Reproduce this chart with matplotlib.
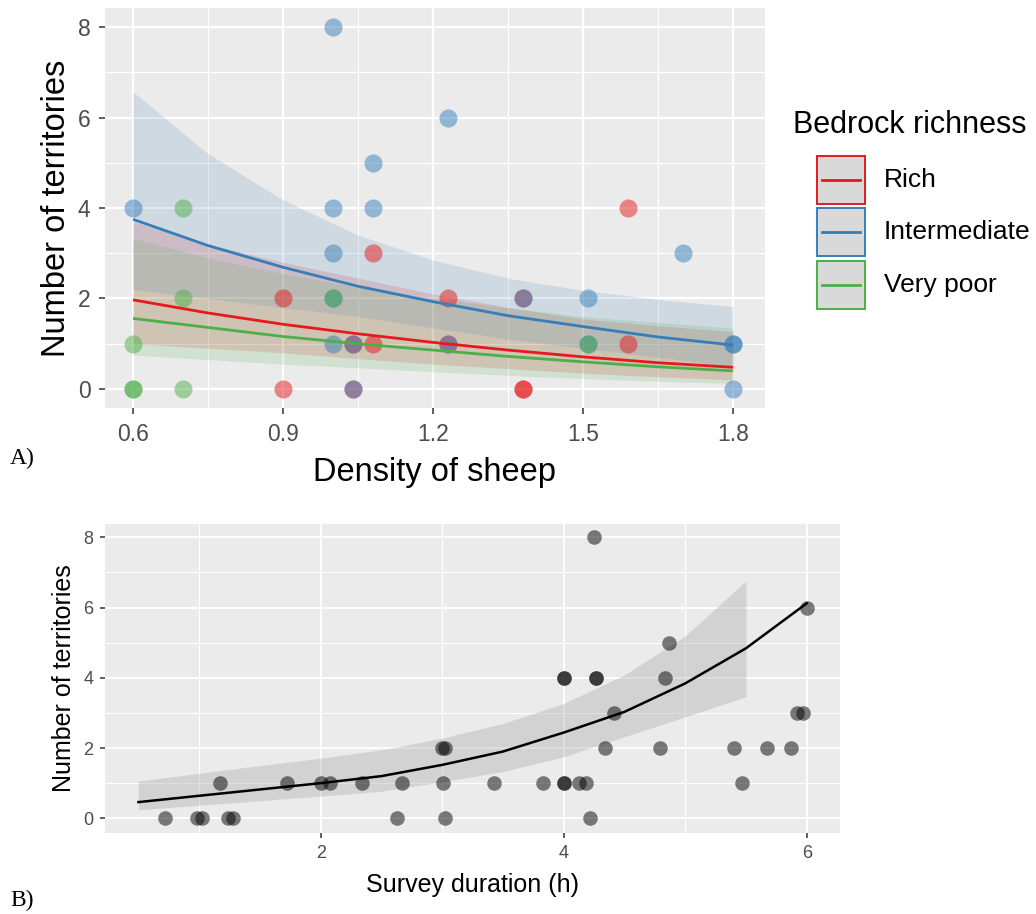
import numpy as np
import matplotlib
matplotlib.use("Agg")
import matplotlib.pyplot as plt
from matplotlib.patches import Rectangle
from matplotlib.lines import Line2D

# ---------------- Panel A data: territories vs. sheep density ----------------
rich_x = [0.9, 0.9, 1.04, 1.04, 1.08, 1.08, 1.23, 1.23, 1.38, 1.38, 1.38, 1.59, 1.59]
rich_y = [2, 0, 1, 0, 3, 1, 2, 1, 2, 0, 0, 4, 1]
inter_x = [0.6, 1.0, 1.0, 1.0, 1.0, 1.0, 1.04, 1.04, 1.08, 1.08, 1.23, 1.23,
           1.38, 1.51, 1.51, 1.70, 1.80, 1.80, 1.80]
inter_y = [4, 8, 4, 3, 2, 1, 1, 0, 5, 4, 6, 1, 2, 2, 1, 3, 1, 1, 0]
poor_x = [0.6, 0.6, 0.6, 0.7, 0.7, 0.7, 1.0, 1.51]
poor_y = [1, 0, 0, 4, 2, 0, 2, 1]

# model predictions with confidence bands
dens_grid = [0.6, 0.75, 0.9, 1.05, 1.2, 1.35, 1.5, 1.65, 1.8]
rich_fit = [1.97, 1.68, 1.43, 1.22, 1.03, 0.86, 0.71, 0.58, 0.48]
rich_lo = [1.00, 0.90, 0.80, 0.67, 0.55, 0.45, 0.35, 0.27, 0.20]
rich_hi = [3.70, 3.20, 2.80, 2.45, 2.10, 1.80, 1.55, 1.40, 1.27]
inter_fit = [3.75, 3.17, 2.69, 2.27, 1.93, 1.62, 1.38, 1.15, 0.97]
inter_lo = [2.20, 2.00, 1.80, 1.60, 1.35, 1.10, 0.90, 0.70, 0.50]
inter_hi = [6.57, 5.20, 4.18, 3.40, 2.85, 2.45, 2.18, 1.98, 1.82]
poor_fit = [1.56, 1.36, 1.16, 1.00, 0.86, 0.72, 0.60, 0.49, 0.40]
poor_lo = [0.75, 0.65, 0.55, 0.47, 0.38, 0.30, 0.23, 0.17, 0.12]
poor_hi = [3.33, 2.90, 2.55, 2.25, 2.00, 1.80, 1.60, 1.47, 1.35]

groups = ["Rich", "Intermediate", "Very poor"]
group_colors = ["#E41A1C", "#377EB8", "#4DAF4A"]

dens_ticks = [0.6, 0.9, 1.2, 1.5, 1.8]
count_ticks = [0, 2, 4, 6, 8]

# ---------------- Panel B data: territories vs. survey duration ----------------
dur_x = [0.72, 0.98, 1.02, 1.24, 1.28, 2.63, 3.02, 4.22,
         1.17, 1.72, 2.0, 2.08, 2.34, 2.67, 3.01, 3.43, 3.83, 4.0, 4.0, 4.13, 4.18, 5.47,
         3.0, 3.02, 4.34, 4.79, 5.40, 5.67, 5.87,
         4.41, 5.92, 5.97,
         4.0, 4.0, 4.27, 4.27, 4.83,
         4.87,
         6.0,
         4.25]
dur_y = [0, 0, 0, 0, 0, 0, 0, 0,
         1, 1, 1, 1, 1, 1, 1, 1, 1, 1, 1, 1, 1, 1,
         2, 2, 2, 2, 2, 2, 2,
         3, 3, 3,
         4, 4, 4, 4, 4,
         5,
         6,
         8]

dur_grid = [0.5, 1.0, 1.5, 2.0, 2.5, 3.0, 3.5, 4.0, 4.5, 5.0, 5.5, 6.0]
dur_fit = [0.46, 0.64, 0.82, 1.00, 1.20, 1.52, 1.90, 2.44, 3.03, 3.84, 4.84, 6.12]
band_grid = [0.5, 1.0, 1.5, 2.0, 2.5, 3.0, 3.5, 4.0, 4.5, 5.0, 5.5]
dur_lo = [0.24, 0.37, 0.50, 0.63, 0.77, 1.04, 1.33, 1.75, 2.32, 2.89, 3.46]
dur_hi = [1.06, 1.28, 1.50, 1.71, 1.95, 2.28, 2.70, 3.27, 4.08, 5.19, 6.76]

dur_ticks = [2, 4, 6]

# ---------------- styling ----------------
plt.rcParams["font.family"] = ["Liberation Sans", "DejaVu Sans"]
PANEL_BG = "#EBEBEB"
TICK_COL = "#4D4D4D"

W, H = 1036, 914
fig = plt.figure(figsize=(W / 100, H / 100), dpi=100)


def px_axes(left, top, right, bottom):
    return fig.add_axes([left / W, 1 - bottom / H, (right - left) / W, (bottom - top) / H])


def gg_style(ax, tick_size, major_lw, minor_lw, tick_len, tick_pad):
    ax.set_facecolor(PANEL_BG)
    for s in ax.spines.values():
        s.set_visible(False)
    ax.grid(which="major", color="white", lw=major_lw, zorder=0)
    ax.grid(which="minor", color="white", lw=minor_lw, zorder=0)
    ax.set_axisbelow(True)
    ax.tick_params(which="major", length=tick_len, width=1.1, color="#333333",
                   labelcolor=TICK_COL, labelsize=tick_size, pad=tick_pad)
    ax.tick_params(which="minor", length=0)


# ---------------- Panel A ----------------
axA = px_axes(105, 8, 765, 408)
gg_style(axA, 16.5, 1.6, 0.8, 4.5, 6)
axA.set_xlim(0.544, 1.864)
axA.set_ylim(-0.42, 8.42)
axA.set_xticks(dens_ticks)
axA.set_xticklabels([f"{t:.1f}" for t in dens_ticks])
axA.set_xticks([0.75, 1.05, 1.35, 1.65], minor=True)
axA.set_yticks(count_ticks)
axA.set_yticks([1, 3, 5, 7], minor=True)

fits = [(rich_fit, rich_lo, rich_hi), (inter_fit, inter_lo, inter_hi),
        (poor_fit, poor_lo, poor_hi)]
for (fit, lo, hi), col in zip(fits, group_colors):
    axA.fill_between(dens_grid, lo, hi, color=col, alpha=0.16, lw=0, zorder=1)

pts = [(rich_x, rich_y), (inter_x, inter_y), (poor_x, poor_y)]
for (xs, ys), col in zip(pts, group_colors):
    axA.scatter(xs, ys, s=170, color=col, alpha=0.5, lw=0, zorder=2)

for (fit, lo, hi), col in zip(fits, group_colors):
    axA.plot(dens_grid, fit, color=col, lw=2.0, zorder=3, solid_capstyle="butt")

axA.set_xlabel("Density of sheep", fontsize=23.5, color="black", labelpad=8)
axA.set_ylabel("Number of territories", fontsize=23.5, color="black", labelpad=4)

# legend for panel A
fig.text(793 / W, 1 - 125 / H, "Bedrock richness", fontsize=22, ha="left", va="center")
key_tops = [156, 208, 261]
for top, col, name in zip(key_tops, group_colors, groups):
    fig.add_artist(Rectangle((817 / W, 1 - (top + 48) / H), 48 / W, 48 / H,
                             transform=fig.transFigure, facecolor="#D9D9D9",
                             edgecolor=col, lw=1.4))
    yc = 1 - (top + 24) / H
    fig.add_artist(Line2D([822 / W, 860 / W], [yc, yc], transform=fig.transFigure,
                          color=col, lw=2.0))
    fig.text(884 / W, yc, name, fontsize=19, ha="left", va="center")

fig.text(10 / W, 1 - 458 / H, "A)", fontsize=17, family="Liberation Serif",
         ha="left", va="center")

# ---------------- Panel B ----------------
axB = px_axes(105, 524, 840, 833)
gg_style(axB, 13, 1.3, 0.7, 3.5, 5)
axB.set_xlim(0.225, 6.274)
axB.set_ylim(-0.42, 8.38)
axB.set_xticks(dur_ticks)
axB.set_xticks([1, 3, 5], minor=True)
axB.set_yticks(count_ticks)
axB.set_yticks([1, 3, 5, 7], minor=True)

axB.fill_between(band_grid, dur_lo, dur_hi, color="#999999", alpha=0.3, lw=0, zorder=1)
axB.scatter(dur_x, dur_y, s=110, color="black", alpha=0.5, lw=0, zorder=2)
axB.plot(dur_grid, dur_fit, color="black", lw=1.8, zorder=3)

axB.set_xlabel("Survey duration (h)", fontsize=18, color="black", labelpad=8)
axB.set_ylabel("Number of territories", fontsize=18, color="black", labelpad=5)

fig.text(10 / W, 1 - 900 / H, "B)", fontsize=17, family="Liberation Serif",
         ha="left", va="center")

fig.savefig("out.png", dpi=100, facecolor="white")
